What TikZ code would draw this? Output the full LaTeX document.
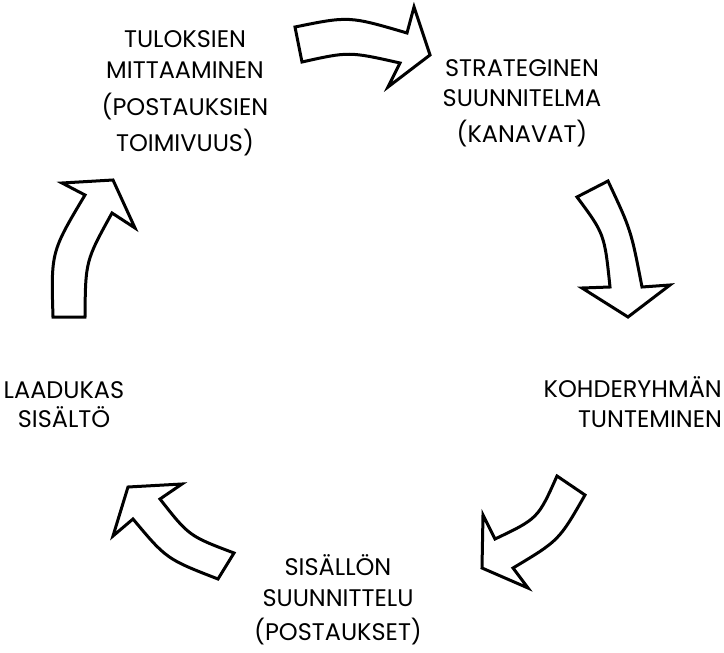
\documentclass[tikz,border=0pt]{standalone}
\usepackage{fontspec}
\setmainfont{Poppins}
\begin{document}
\begin{tikzpicture}[x=1pt,y=-1pt,
  blockarrow/.style={draw=black,line width=3pt,fill=white,line join=miter},
  lbl/.style={inner sep=0pt,anchor=base,font=\fontsize{24}{28}\selectfont}]
\useasboundingbox (0,0) rectangle (724,653);
% text blocks
\node[lbl] (a1) at (185,47) {TULOKSIEN};
\node[lbl] (a2) at (185,78) {MITTAAMINEN};
\node[lbl] (a3) at (185,115) {(POSTAUKSIEN};
\node[lbl] (a4) at (185,151) {TOIMIVUUS)};
\node[lbl] (b1) at (522,76) {STRATEGINEN};
\node[lbl] (b2) at (522,106) {SUUNNITELMA};
\node[lbl] (b3) at (522,142) {(KANAVAT)};
\node[lbl,anchor=base east] (c1) at (722,397) {KOHDERYHMÄN};
\node[lbl] (c2) at (650,427) {TUNTEMINEN};
\node[lbl] (d1) at (64,398) {LAADUKAS};
\node[lbl] (d2) at (64,427) {SISÄLTÖ};
\node[lbl] (e1) at (338,575) {SISÄLLÖN};
\node[lbl] (e2) at (338,606) {SUUNNITTELU};
\node[lbl] (e3) at (338,640) {(POSTAUKSET)};
% block arrows
\draw[blockarrow] (295,27) .. controls (349,16) .. (407,33) -- (414,7) -- (430,55) -- (388,87) -- (400,63) .. controls (349,51.5) .. (302,62) -- cycle;
\draw[blockarrow] (577,197) -- (608,181) .. controls (631,230) .. (642,287) -- (670,285) -- (628,317) -- (582,288) -- (610,287) .. controls (604.5,234) .. (577,197) -- cycle;
\draw[blockarrow] (557,476) -- (585,495) .. controls (559,540.5) .. (513,568) -- (528,588) -- (482,568) -- (483,515) -- (495,539) .. controls (538,518.5) .. (557,476) -- cycle;
\draw[blockarrow] (128,487) -- (182,484) -- (160,499) .. controls (189,536) .. (234,553) -- (218,579) .. controls (166.5,559) .. (133,519) -- (113,536) -- cycle;
\draw[blockarrow] (53,317) -- (85,317) .. controls (85.5,261) .. (112,213) -- (135,228) -- (113,180) -- (62,183) -- (85,195) .. controls (51,252) .. (53,317) -- cycle;
\end{tikzpicture}
\end{document}
